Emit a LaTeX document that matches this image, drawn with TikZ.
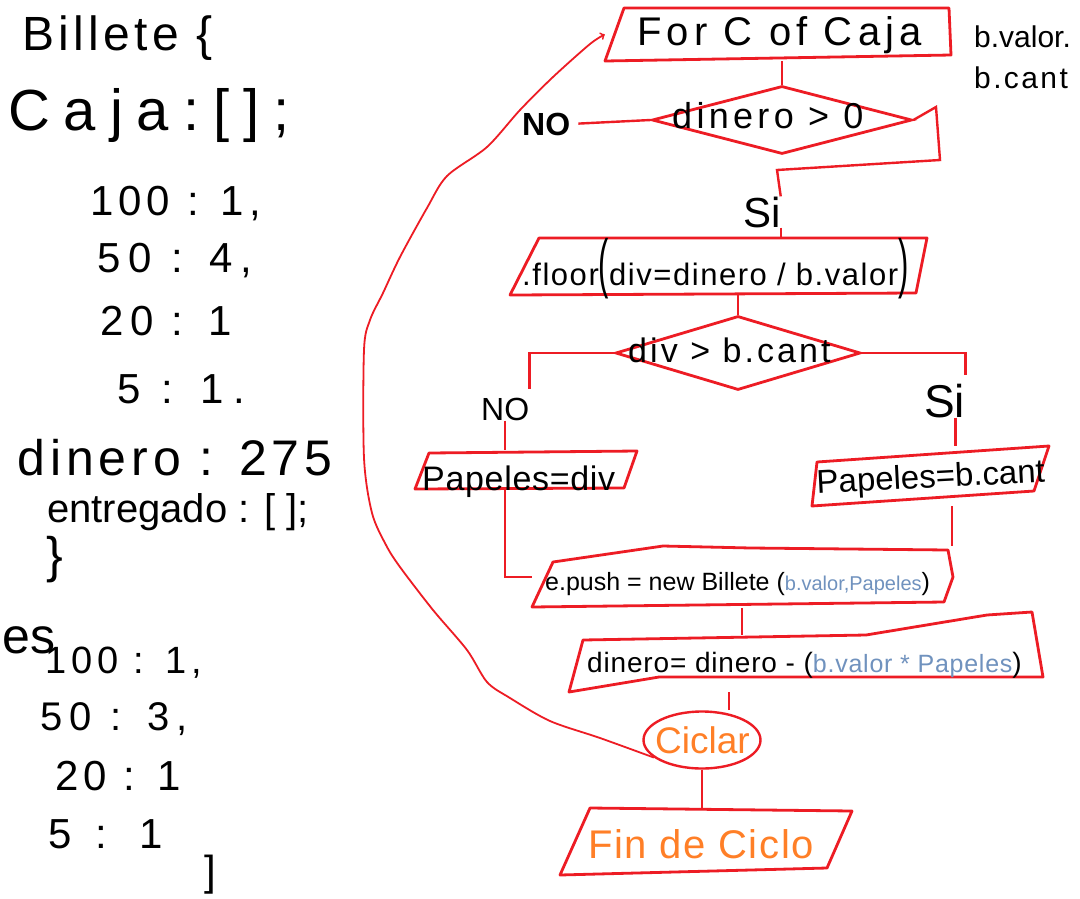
\documentclass[tikz,border=0pt]{standalone}
\usepackage{fontspec}
\setmainfont{Liberation Sans}
\usepackage{graphicx}
\usetikzlibrary{shapes.geometric}

\definecolor{pred}{RGB}{237,28,36}
\definecolor{pblue}{RGB}{112,146,190}
\definecolor{porange}{RGB}{255,127,39}

\newcommand\hand[2]{\fontsize{#1}{#1}\selectfont\addfontfeature{LetterSpace=#2}}
\newcommand\tallpar[1]{\scalebox{1}[2.1]{#1}}

\tikzset{
  txt/.style={inner sep=0pt, anchor=base west},
  box/.style={inner sep=0pt, draw=none},
  outline/.style={draw=pred, line width=2.8pt, line join=round},
  link/.style={draw=pred, line width=2.4pt},
  gap/.style={shorten >=8pt},
  loopline/.style={draw=pred, line width=1.8pt},
  rombo/.style={diamond, draw=pred, line width=2.8pt, inner sep=0pt}
}

\begin{document}
\begin{tikzpicture}[x=1pt,y=-1pt]
    \path[use as bounding box, fill=white] (0,0) rectangle (1080,898);

    % dati a sinistra
    \node[txt] (billete) at (22,50) {\hand{48}{9}Billete \{};
    \node[txt] (caja) at (8,130) {\hand{58}{24}Caja:[];};
    \node[txt] (c100) at (90,215) {\hand{42}{12}100 : 1,};
    \node[txt] (c50) at (97,272) {\hand{42}{19}50 : 4,};
    \node[txt] (c20) at (100,335) {\hand{42}{16}20 : 1};
    \node[txt] (c5) at (117,403) {\hand{42}{22}5 : 1.};
    \node[txt] (dinero) at (17,475) {\hand{50}{10}dinero : 275};
    \node[txt] (entregado) at (47,522) {\hand{40}{0}entregado : [ ];};
    \node[inner sep=0pt] (cierre) at (55,560) {\hand{50}{0}\}};

    % esempio
    \node[txt] (es) at (2,653) {\hand{50}{0}es};
    \node[txt] (e100) at (45,673) {\hand{38}{13}100 : 1,};
    \node[txt] (e50) at (40,730) {\hand{40}{19}50 : 3,};
    \node[txt] (e20) at (55,790) {\hand{42}{12}20 : 1};
    \node[txt] (e5) at (48,848) {\hand{42}{30}5 : 1};
    \node[inner sep=0pt] (ecierre) at (210,875) {\hand{42}{0}]};

    % riquadri
    \node[box, minimum width=346pt, minimum height=53pt] (forc) at (778,34.5) {};
    \draw[outline] (624,8) -- (949,8) -- (951,55) -- (605,61) -- cycle;
    \node[txt] (fortxt) at (637,45) {\hand{40}{13}For C of Caja};
    \node[txt] (bvalor) at (974,47) {\hand{30}{0}b.valor.};
    \node[txt] (bcant) at (974,88) {\hand{30}{8}b.cant};

    \node[rombo, minimum width=260pt, minimum height=68pt] (d1) at (782,120) {};
    \node[txt] (d1txt) at (672,128) {\hand{36}{12}dinero > 0};
    \node[txt] (no1) at (522,135) {\hand{32}{0}\bfseries NO};
    \node[txt] (si1) at (743,227) {\hand{42}{0}Si};

    \node[box, minimum width=417pt, minimum height=57pt] (floor) at (718.5,266.5) {};
    \draw[outline] (539,238) -- (927,238) -- (916,293) -- (510,295) -- cycle;
    \node[txt] (floortxt) at (522,285) {\hand{31}{5}.floor\tallpar{(}div=dinero / b.valor\tallpar{)}};

    \node[rombo, minimum width=245pt, minimum height=74pt] (d2) at (738,353) {};
    \node[txt] (d2txt) at (628,362) {\hand{34}{9}div > b.cant};
    \node[txt] (no2) at (481,420) {\hand{32}{0}NO};
    \node[txt] (si2) at (924,417) {\hand{46}{0}Si};

    \node[box, minimum width=222pt, minimum height=38pt] (pdiv) at (526,469) {};
    \draw[outline] (429,453) -- (637,451) -- (624,488) -- (415,489) -- cycle;
    \node[txt] (pdivtxt) at (422,490) {\hand{34}{2}Papeles=div};

    \node[box, minimum width=239pt, minimum height=60pt] (pcant) at (929.5,476) {};
    \draw[outline] (817,462) -- (1049,446) -- (1034,491) -- (812,506) -- cycle;
    \node[txt, rotate=3] (pcanttxt) at (817,494) {\hand{33}{0}Papeles=b.cant};

    \node[box, minimum width=420pt, minimum height=62pt] (push) at (742,577) {};
    \draw[outline] (553,562) -- (663,546) -- (751,548) -- (948,550) -- (953,577)
        -- (944,602) -- (532,607) -- cycle;
    \node[txt] (pushtxt) at (545,590) {\hand{25}{0}e.push = new Billete
        (\textcolor{pblue}{\fontsize{20}{20}\selectfont b.valor,Papeles})};

    \node[box, minimum width=474pt, minimum height=57pt] (dbox) at (806,663.5) {};
    \draw[outline] (583,640) -- (866,635) -- (987,615) -- (1032,612) -- (1043,677)
        -- (659,677) -- (569,692) -- cycle;
    \node[txt] (dboxtxt) at (587,672) {\hand{28}{3}dinero= dinero -
        (\textcolor{pblue}{\fontsize{25}{25}\selectfont b.valor * Papeles})};

    \node[ellipse, draw=pred, line width=2.4pt, inner sep=0pt,
        minimum width=117pt, minimum height=57pt] (ciclar) at (702,740) {};
    \node[txt, text=porange] (ciclartxt) at (655,753) {\hand{37}{0}Ciclar};

    \node[box, minimum width=292pt, minimum height=67pt] (fin) at (706,841.5) {};
    \draw[outline] (590,808) -- (852,811) -- (827,868) -- (560,875) -- cycle;
    \node[txt, text=porange] (fintxt) at (588,858) {\hand{40}{4}Fin de Ciclo};

    % collegamenti
    \draw[link] (d1.north |- forc.south) -- (d1.north);
    \draw[link, gap] (d1.west) -- (no1.east);
    \draw[link] (d1.east) -- (936,107) -- (940,160) -- (777,170) -- (si1.north east);
    \draw[link] (si1.south east) -- (si1.south east |- floor.north);
    \draw[link] (floor.south -| d2.north) -- (d2.north);
    \draw[link, gap] (d2.west) -| (no2.north east);
    \draw[link] (no2.south) -- (no2.south |- pdiv.north);
    \draw[link] ([xshift=-21pt]pdiv.south) |- (push.west);
    \draw[link, gap] (d2.east) -| (si2.north east);
    \draw[link] ([xshift=-10pt]si2.south east) -- ([xshift=-10pt]si2.south east |- pcant.north);
    \draw[link] (push.north east |- pcant.south) -- (push.north east);
    \draw[link] (push.south) -- (push.south |- dbox.north);
    \draw[link] ([xshift=27pt]ciclar.north |- dbox.south) -- ([xshift=27pt]ciclar.north);
    \draw[link] (ciclar.south) -- (ciclar.south |- fin.north);

    % ritorno al ciclo
    \draw[loopline, ->] plot[smooth, tension=0.5] coordinates {(ciclar.200) (600,738)
        (550,721) (510,698) (487,682) (467,650) (433,610) (400,567) (386,545) (372,513)
        (364,458) (364,350) (370,320) (383,293) (400,257) (427,208) (447,176) (487,147)
        (520,110) (553,77) (590,44) (forc.west)};
\end{tikzpicture}
\end{document}
